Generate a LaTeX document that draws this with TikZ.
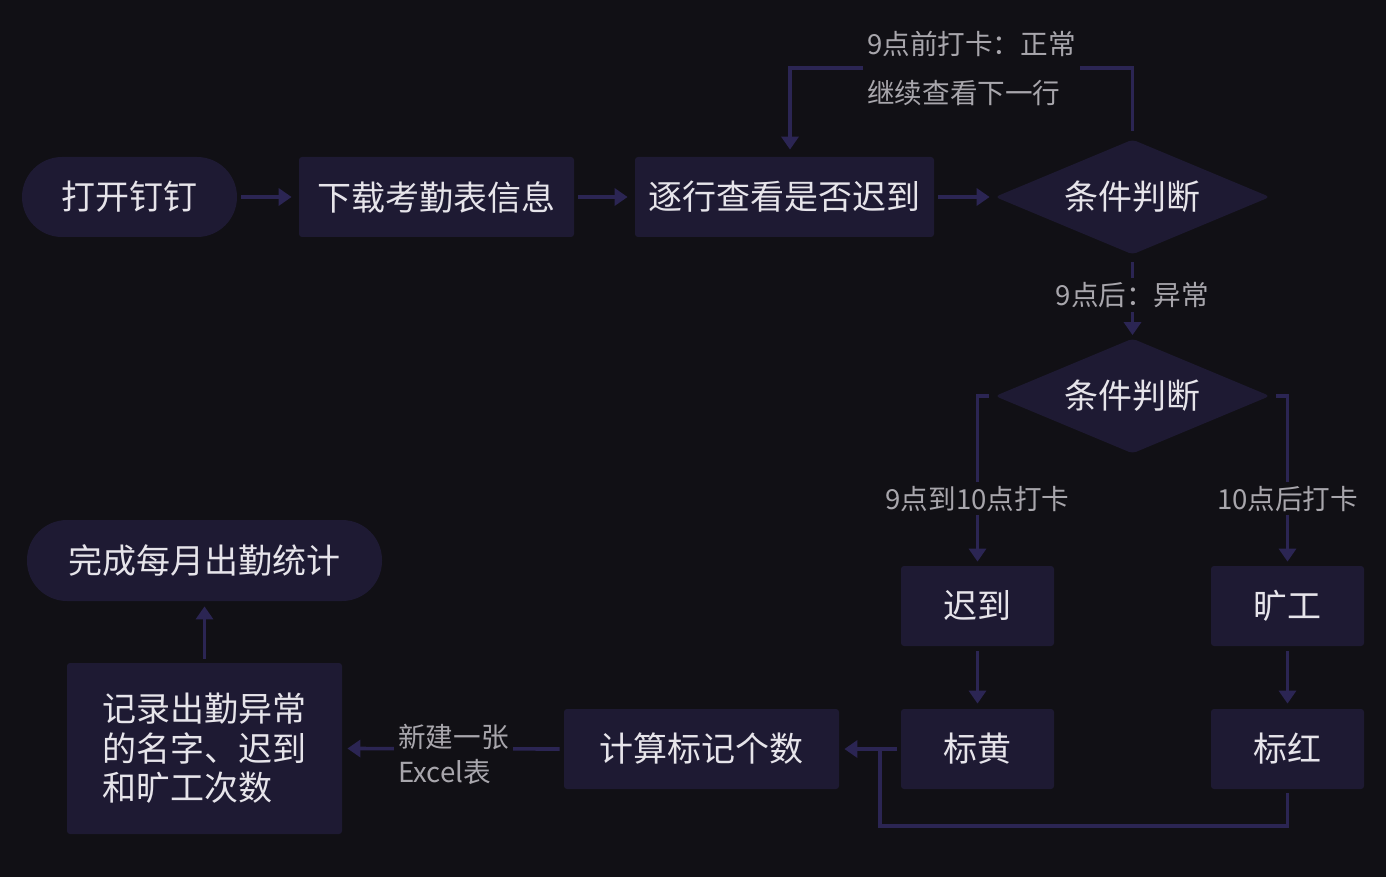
\documentclass[tikz,border=0pt]{standalone}
\usepackage{fontspec}
\setmainfont{Noto Sans CJK SC}
\usetikzlibrary{shapes.geometric,arrows.meta}

\definecolor{bgcol}{HTML}{111015}
\definecolor{boxcol}{HTML}{1E1A33}
\definecolor{linecol}{HTML}{2B2553}
\definecolor{txtcol}{HTML}{E6E4EA}
\definecolor{lblcol}{HTML}{A8A6AC}

\tikzset{
    box/.style={fill=boxcol, text=txtcol, rounded corners=1.5pt, inner sep=0pt,
        minimum width=137.5pt, minimum height=40pt,
        font=\fontsize{17}{19.75}\selectfont},
    pill/.style={box, rounded corners=20pt},
    cond/.style={diamond, aspect=2.39, fill=boxcol, text=txtcol, rounded corners=2pt,
        inner sep=0pt, minimum width=137.5pt, minimum height=57.5pt,
        font=\fontsize{17}{19.75}\selectfont},
    wire/.style={draw=linecol, line width=1.8pt},
    flow/.style={wire, -{Triangle[length=6.5pt,width=8.5pt]}},
    lbl/.style={fill=bgcol, text=lblcol, inner sep=2pt, align=left,
        font=\fontsize{13.8}{17.5}\selectfont},
}

\begin{document}
\begin{tikzpicture}[x=0.5pt,y=-0.5pt]
    \fill[bgcol] (0,0) rectangle (1386,877);
    \useasboundingbox (0,0) rectangle (1386,877);

    % top row
    \node[pill, minimum width=107.5pt] (open) at (129.5,197) {打开钉钉};
    \node[box] (download) at (436.5,197) {下载考勤表信息};
    \node[box, minimum width=149.5pt] (check) at (784.5,197) {逐行查看是否迟到};
    \node[cond] (judge) at (1132.5,197) {条件判断};

    % branches
    \node[cond] (judgelate) at (1132.5,396) {条件判断};
    \node[box, minimum width=76.5pt] (late) at (977.5,606) {迟到};
    \node[box, minimum width=76.5pt] (absent) at (1287.5,606) {旷工};
    \node[box, minimum width=76.5pt] (yellow) at (977.5,749) {标黄};
    \node[box, minimum width=76.5pt] (red) at (1287.5,749) {标红};

    % bottom row
    \node[box] (count) at (701.5,749) {计算标记个数};
    \node[box, minimum height=85.5pt, align=left] (record) at (204.5,748.5)
        {记录出勤异常\\的名字、迟到\\和旷工次数};
    \node[pill, minimum width=177.5pt, minimum height=40.5pt] (done) at (204.5,560.5)
        {完成每月出勤统计};

    \coordinate (loop) at (790,68);
    \coordinate (back) at (880,826);
    \coordinate (merge) at (880,749);

    \draw[flow] ([xshift=2pt]open.east) -- ([xshift=-3.5pt]download.west);
    \draw[flow] ([xshift=2pt]download.east) -- ([xshift=-3.5pt]check.west);
    \draw[flow] ([xshift=2pt]check.east) -- ([xshift=-2.5pt]judge.west);

    \draw[flow] ([yshift=4pt]judge.north) |- (loop)
        node[lbl, pos=0.735, font=\fontsize{13.8}{24.5}\selectfont]
        {9点前打卡：正常\\继续查看下一行}
        -- ([yshift=3.5pt]check.north -| loop);
    \draw[flow] ([yshift=-3.5pt]judge.south) -- ([yshift=1.5pt]judgelate.north)
        node[lbl, pos=0.45] {9点后：异常};

    \draw[flow] ([xshift=-3pt]judgelate.west) -| ([yshift=2pt]late.north)
        node[lbl, pos=0.81] {9点到10点打卡};
    \draw[flow] ([xshift=3pt]judgelate.east) -| ([yshift=2pt]absent.north)
        node[lbl, pos=0.81] {10点后打卡};
    \draw[flow] ([yshift=-2.5pt]late.south) -- ([yshift=2.5pt]yellow.north);
    \draw[flow] ([yshift=-2.5pt]absent.south) -- ([yshift=2.5pt]red.north);

    \draw[flow] ([xshift=-2pt]yellow.west) -- ([xshift=2.5pt]count.east);
    \draw[wire] ([yshift=-2pt]red.south) |- (back) -- (merge);

    \draw[flow] ([xshift=-2pt]count.west) -- ([xshift=2.5pt]record.east)
        node[lbl, midway, yshift=-3pt] {新建一张\\Excel表};
    \draw[flow] ([yshift=2pt]record.north) -- ([yshift=-2.5pt]done.south);
\end{tikzpicture}
\end{document}
